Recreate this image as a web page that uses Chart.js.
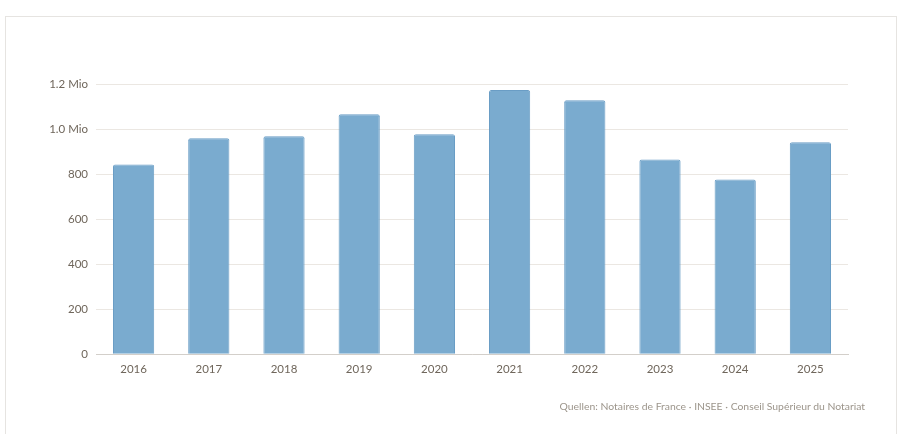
<!DOCTYPE html>
<html>
<head>
<meta charset="utf-8">
<script src="https://cdn.jsdelivr.net/npm/chart.js@4.4.1/dist/chart.umd.min.js"></script>
<style>
  html, body { margin: 0; padding: 0; background: #fff; }
  body { width: 906px; height: 434px; position: relative; overflow: hidden; font-family: Lato, "Noto Sans", sans-serif; }
  #card { position: absolute; left: 5px; top: 16px; width: 892px; height: 440px; border: 1px solid #e6e4e1; box-sizing: border-box; background: #fff; }
  #wrap { position: absolute; left: 0; top: 0; width: 906px; height: 434px; }
  #src { position: absolute; right: 41px; top: 400px; font-size: 10.4px; color: #9c958b; white-space: nowrap; font-family: Lato, sans-serif; }
</style>
</head>
<body>
<div id="card"></div>
<div id="wrap"><canvas id="c" width="906" height="434"></canvas></div>
<div id="src">Quellen: Notaires de France · INSEE · Conseil Supérieur du Notariat</div>
<script>
const categories = ["2016", "2017", "2018", "2019", "2020", "2021", "2022", "2023", "2024", "2025"];
// Transactions, in thousands
const transactions = [843, 959, 968, 1066, 977, 1173, 1128, 865, 776, 941];
const yTickValues = [0, 200, 400, 600, 800, 1000, 1200];

function fmtTick(v) {
  if (v >= 1000) return (v / 1000).toFixed(1) + " Mio";
  return String(v);
}

new Chart(document.getElementById("c"), {
  type: "bar",
  data: {
    labels: categories,
    datasets: [{
      data: transactions,
      backgroundColor: "#7aabcf",
      borderColor: "#6a9dc5",
      borderWidth: 1,
      borderRadius: 2,
      borderSkipped: "bottom",
      categoryPercentage: 0.8,
      barPercentage: 0.685
    }]
  },
  options: {
    responsive: false,
    animation: false,
    devicePixelRatio: 1,
    layout: { padding: { left: 40, right: 58, top: 84, bottom: 50 } },
    plugins: { legend: { display: false }, tooltip: { enabled: false } },
    scales: {
      x: {
        grid: { display: false, drawTicks: false },
        border: { display: true, color: "#d3cfca", width: 1 },
        ticks: { color: "#6f665b", font: { family: "Lato", size: 11.5 }, padding: 8 }
      },
      y: {
        min: 0, max: 1200,
        afterBuildTicks: (s) => { s.ticks = yTickValues.map(v => ({ value: v })); },
        afterFit: (s) => { s.width = 56; },
        grid: { color: "#ebe7e2", drawTicks: false },
        border: { display: false },
        ticks: { color: "#6f665b", font: { family: "Lato", size: 11.5 }, padding: 8, callback: (v) => fmtTick(v) }
      }
    }
  }
});
</script>
</body>
</html>
